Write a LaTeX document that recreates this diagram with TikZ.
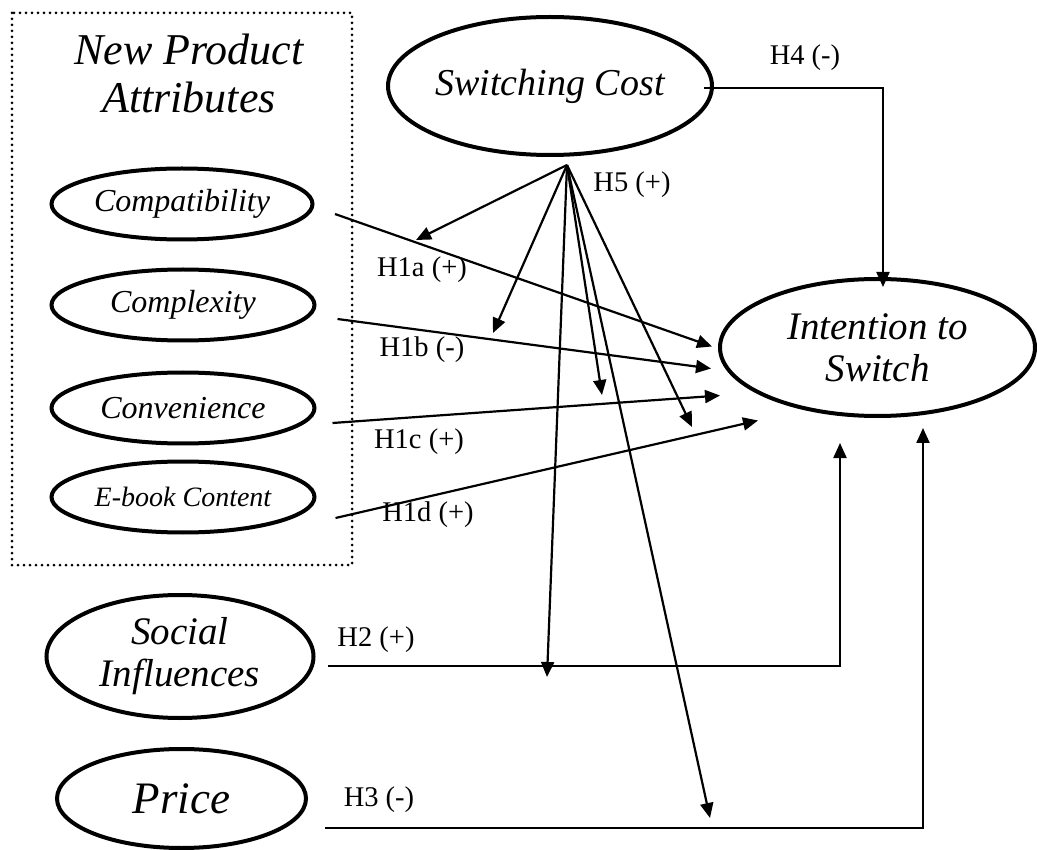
\documentclass[tikz,border=0pt]{standalone}
\usepackage{fontspec}
\setmainfont{Liberation Serif}
\usetikzlibrary{arrows.meta,shapes.geometric,calc}
\begin{document}
\begin{tikzpicture}[x=1pt,y=-1pt,
  ell/.style={draw,ellipse,line width=4pt,inner sep=0pt,align=center},
  conn/.style={line width=2.2pt,-{Triangle[length=15pt,width=13pt]}},
  lbl/.style={font=\fontsize{28.5}{32}\selectfont,inner sep=0pt},
  smalltxt/.style={font=\fontsize{32}{36}\selectfont\itshape},
  bigtxt/.style={font=\fontsize{39}{42}\selectfont\itshape}]
\useasboundingbox (0,0) rectangle (1037,850);
% group box
\draw[line width=3pt,line cap=round,dash pattern=on 0pt off 6pt] (12,13) rectangle (352,565);
\node[align=center,inner sep=0pt,font=\fontsize{44}{48}\selectfont\itshape] (npa) at (189,73) {New Product\\Attributes};
% ellipses
\node[ell,smalltxt,minimum width=261pt,minimum height=71pt] (comp) at (182,204) {Compatibility};
\node[ell,smalltxt,minimum width=263pt,minimum height=71pt] (cplx) at (183,305) {Complexity};
\node[ell,smalltxt,minimum width=263pt,minimum height=71pt] (conv) at (183,408) {Convenience};
\node[ell,font=\fontsize{28}{32}\selectfont\itshape,minimum width=263pt,minimum height=71pt] (ebook) at (183,497) {E-book Content};
\node[ell,font=\fontsize{38}{42}\selectfont\itshape,minimum width=322pt,minimum height=138pt] (sc) at (550,86) {Switching Cost};
\node[ell,bigtxt,minimum width=315pt,minimum height=137pt] (int) at (877.5,347.5) {Intention to\\Switch};
\node[ell,bigtxt,minimum width=267pt,minimum height=123pt] (soc) at (180,656.5) {Social\\Influences};
\node[ell,font=\fontsize{45}{48}\selectfont\itshape,minimum width=249pt,minimum height=99pt] (price) at (181.5,798.5) {Price};
% coordinates
\coordinate (apex) at ($(sc.south)+(17,8)$);
\coordinate (a1s) at ($(comp.east)+(20.5,10)$);
\coordinate (a1e) at ($(int.west)+(-6,-1)$);
\coordinate (b1s) at ($(cplx.east)+(21,14)$);
\coordinate (b1e) at ($(int.west)+(-7,21)$);
\coordinate (c1s) at ($(conv.east)+(16,15)$);
\coordinate (c1e) at ($(int.west)+(2,48)$);
\coordinate (d1s) at ($(ebook.east)+(19,21)$);
\coordinate (d1e) at ($(int.west)+(40,73)$);
\coordinate (h4s) at (704,88);
\coordinate (h4c) at (883,88);
\coordinate (h4e) at (883,287);
\coordinate (h2s) at (328,666);
\coordinate (h2c) at (840,666);
\coordinate (h2e) at (840,443);
\coordinate (h3s) at (325,828);
\coordinate (h3c) at (923,828);
\coordinate (h3e) at (923,428);
\coordinate (f1) at (416,240);
\coordinate (f2) at (493,333);
\coordinate (f3) at (547,677);
\coordinate (f4) at (602,395);
\coordinate (f5) at (710,818);
\coordinate (f6) at (692,427);
% H1 connectors
\draw[conn] (a1s) -- (a1e);
\draw[conn] (b1s) -- (b1e);
\draw[conn] (c1s) -- (c1e);
\draw[conn] (d1s) -- (d1e);
% H4, H2, H3
\draw[conn] (h4s) -- (h4c) -- (h4e);
\draw[conn] (h2s) -- (h2c) -- (h2e);
\draw[conn] (h3s) -- (h3c) -- (h3e);
% H5 fan
\foreach \t in {f1,f2,f3,f4,f5,f6} \draw[conn] (apex) -- (\t);
% labels
\node[lbl] (l1a) at (422,270) {H1a (+)};
\node[lbl] (l1b) at (422,350) {H1b (-)};
\node[lbl] (l1c) at (419,442) {H1c (+)};
\node[lbl] (l1d) at (428,515) {H1d (+)};
\node[lbl] (l5) at (632,185) {H5 (+)};
\node[lbl] (l4) at (805,58) {H4 (-)};
\node[lbl] (l2) at (376,640) {H2 (+)};
\node[lbl] (l3) at (379,800) {H3 (-)};
\end{tikzpicture}
\end{document}
